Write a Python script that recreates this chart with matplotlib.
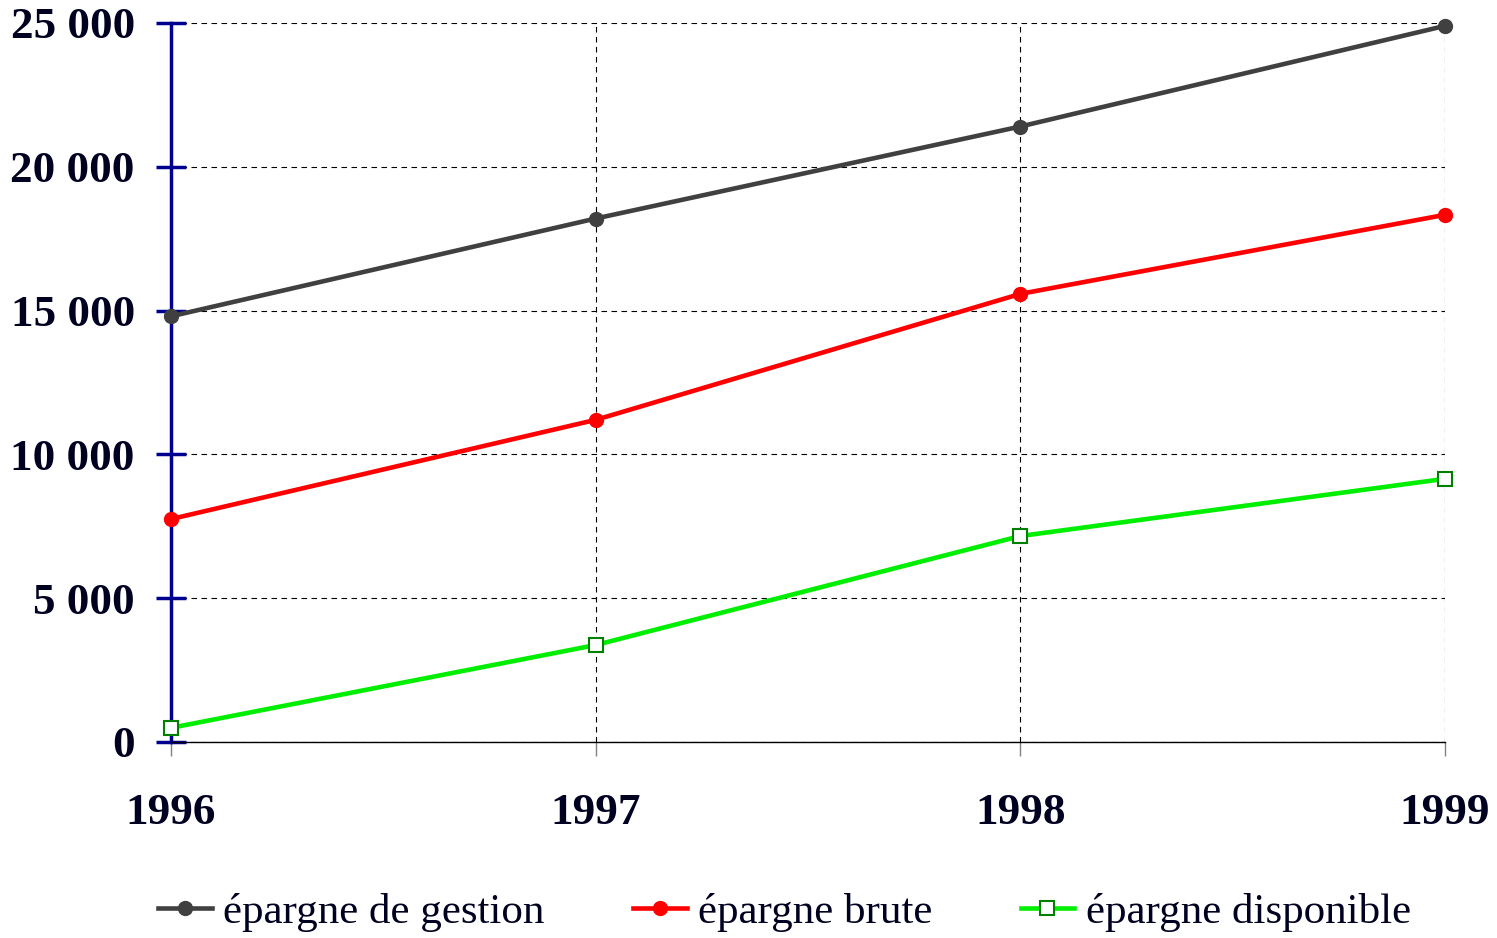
import matplotlib
matplotlib.use("Agg")
import matplotlib.pyplot as plt
from matplotlib.ticker import FuncFormatter

years = [1996, 1997, 1998, 1999]
epargne_gestion = [14800, 18200, 21400, 24900]
epargne_brute = [7750, 11200, 15580, 18330]
epargne_disponible = [490, 3370, 7160, 9150]
yticks = [0, 5000, 10000, 15000, 20000, 25000]

plt.rcParams['font.family'] = ['Liberation Serif', 'DejaVu Serif']

fig = plt.figure(figsize=(14.97, 9.38), dpi=100)
ax = fig.add_axes([0.1142, 0.2090, 0.9653 - 0.1142, 0.9755 - 0.2090])

ax.plot(years, epargne_gestion, color='#404040', lw=3.3, marker='o', ms=10,
        label='épargne de gestion', zorder=5, clip_on=False)
ax.plot(years, epargne_brute, color='#ff0000', lw=3.3, marker='o', ms=10,
        label='épargne brute', zorder=5, clip_on=False)
ax.plot(years, epargne_disponible, color='#00ee00', lw=3.3, marker='s', ms=10,
        mfc='white', mec='#008000', mew=1.5, label='épargne disponible', zorder=5,
        clip_on=False)

ax.set_xlim(1996, 1999)
ax.set_ylim(0, 25000)
ax.set_yticks(yticks)
ax.set_xticks(years)
ax.yaxis.set_major_formatter(FuncFormatter(lambda v, p: f"{int(v):,}".replace(",", " ")))

ax.grid(True, color='black', linestyle=(0, (5, 4)), lw=0.8)
ax.set_axisbelow(True)
for s in ['top', 'right']:
    ax.spines[s].set_visible(False)
ax.spines['left'].set_color('#000090')
ax.spines['left'].set_linewidth(2.5)
ax.spines['bottom'].set_color('black')
ax.spines['bottom'].set_linewidth(1.0)

ax.tick_params(axis='y', direction='inout', length=22, width=2.5, color='#000090',
               labelsize=32.5, pad=15)
ax.tick_params(axis='x', direction='out', length=10, width=1, color='#808080',
               labelsize=32.5, pad=27)
for lab in ax.get_xticklabels() + ax.get_yticklabels():
    lab.set_fontweight('bold')
    lab.set_color('#000020')

leg = fig.legend(loc='center', bbox_to_anchor=(0.524, 0.027), ncol=3, frameon=False,
                 fontsize=31, handlelength=1.25, handletextpad=0.26, columnspacing=2.05)
for t in leg.get_texts():
    t.set_color('#000020')

fig.savefig('out.png', dpi=100)
